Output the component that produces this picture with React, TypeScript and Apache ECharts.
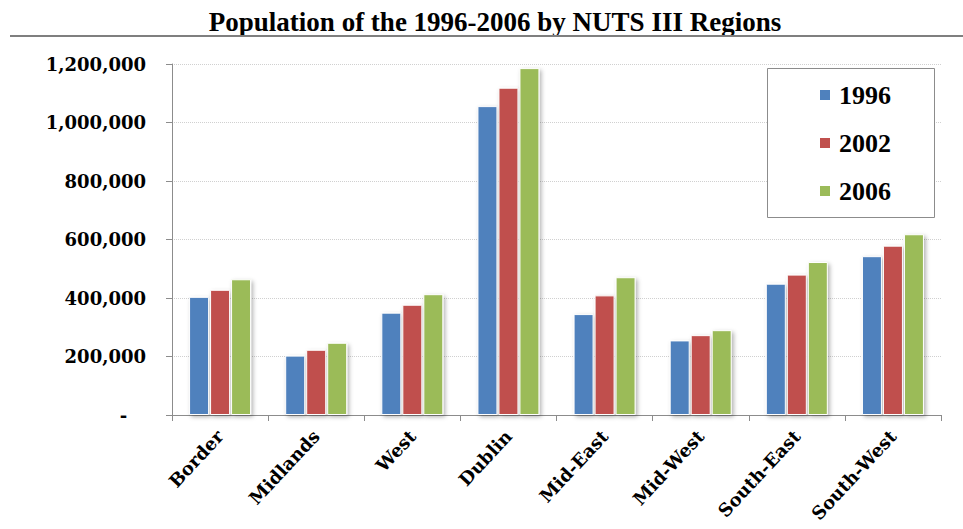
import React, { useEffect, useRef } from "react";
import * as echarts from "echarts";

const categories = ["Border", "Midlands", "West", "Dublin", "Mid-East", "Mid-West", "South-East", "South-West"];
const seriesNames = ["1996", "2002", "2006"];
const values1996 = [404000, 203000, 350000, 1056000, 345000, 255000, 449000, 543000];
const values2002 = [428000, 223000, 377000, 1119000, 409000, 273000, 480000, 579000];
const values2006 = [464000, 247000, 413000, 1186000, 471000, 290000, 523000, 618000];
const colors = ["#4F81BD", "#C0504D", "#9BBB59"];

export default function App() {
  const ref = useRef<HTMLDivElement>(null);
  useEffect(() => {
    if (!ref.current) return;
    const chart = echarts.init(ref.current, undefined, { renderer: "svg" });
    const all = [values1996, values2002, values2006];
    chart.setOption({
      animation: false,
      backgroundColor: "#ffffff",
      title: {
        text: "Population of the 1996-2006 by NUTS III Regions",
        left: 490,
        textAlign: "center",
        top: 3,
        textStyle: { fontFamily: "Liberation Serif", fontWeight: "bold", fontSize: 27, color: "#000" },
      },
      graphic: [
        { type: "line", shape: { x1: 10, y1: 36, x2: 963, y2: 36 }, style: { stroke: "#7f7f7f", lineWidth: 2 }, z: 10 },
        { type: "rect", shape: { x: 767.5, y: 68.5, width: 167, height: 149 }, style: { fill: "#fff", stroke: "#8c8c8c", lineWidth: 1 }, z: 10 },
      ],
      legend: {
        orient: "vertical",
        left: 813,
        top: 77,
        z: 20,
        itemWidth: 12,
        itemHeight: 12,
        itemGap: 22,
        icon: "rect",
        data: seriesNames,
        textStyle: { fontFamily: "Liberation Serif", fontWeight: "bold", fontSize: 26, color: "#000", padding: [0, 0, 0, 3] },
      },
      grid: { left: 172, right: 22, top: 64, bottom: 114, outerBoundsMode: "none", containLabel: false },
      xAxis: {
        type: "category",
        data: categories,
        axisLine: { lineStyle: { color: "#8c8c8c" } },
        axisTick: { show: true, length: 6, lineStyle: { color: "#8c8c8c" } },
        axisLabel: {
          rotate: 47,
          margin: 18,
          fontFamily: "DejaVu Serif",
          fontWeight: "bold",
          fontSize: 18,
          color: "#000",
          interval: 0,
        },
      },
      yAxis: {
        type: "value",
        min: 0,
        max: 1200000,
        interval: 200000,
        axisLine: { show: true, lineStyle: { color: "#8c8c8c" } },
        axisTick: { show: true, length: 6, lineStyle: { color: "#8c8c8c" } },
        splitLine: { lineStyle: { color: "#d0d0d0", type: "dotted" } },
        axisLabel: {
          margin: 26,
          fontFamily: "DejaVu Serif",
          fontWeight: "bold",
          fontSize: 18,
          color: "#000",
          formatter: (v: number) => (v === 0 ? "-\u00a0\u00a0\u00a0" : v.toLocaleString("en-US")),
        },
      },
      series: seriesNames.map((name, i) => ({
        name,
        type: "bar",
        data: all[i],
        barWidth: 20,
        barGap: "5%",
        itemStyle: {
          color: colors[i],
          borderColor: "#ffffff",
          borderWidth: 1,
          shadowColor: "rgba(0,0,0,0.3)",
          shadowBlur: 4,
          shadowOffsetX: 2,
          shadowOffsetY: 2,
        },
      })),
    });
    return () => chart.dispose();
  }, []);
  return <div ref={ref} style={{ position: "fixed", left: 0, top: 0, width: 963, height: 529 }} />;
}
